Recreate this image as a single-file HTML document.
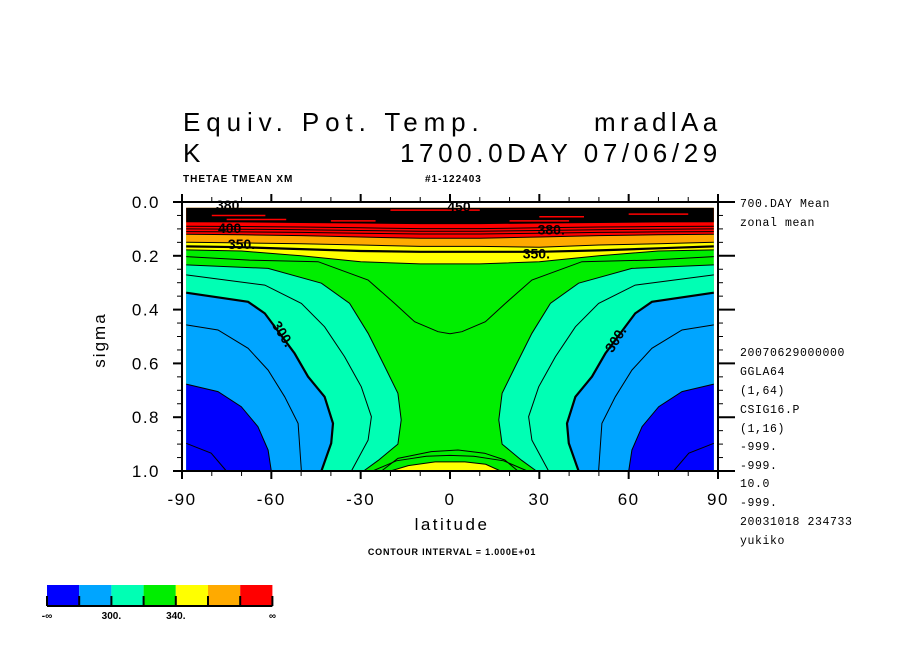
<!DOCTYPE html>
<html><head><meta charset="utf-8"><style>
html,body{margin:0;padding:0;background:#fff;}
svg{display:block;font-family:"Liberation Sans",sans-serif;}
.t{font-family:"Liberation Mono","DejaVu Sans Mono",monospace;}
</style></head><body>
<svg id="c" width="904" height="654" viewBox="0 0 904 654">
<text x="183" y="131" font-size="26" letter-spacing="5.9">Equiv. Pot. Temp.</text>
<text x="594" y="131" font-size="26" letter-spacing="4.4">mradlAa</text>
<text x="183" y="162" font-size="26">K</text>
<text x="400" y="162" font-size="26" letter-spacing="4.6">1700.0DAY 07/06/29</text>
<text x="183" y="182" font-size="10" font-weight="bold" letter-spacing="1">THETAE TMEAN XM</text>
<text x="425" y="182" font-size="10" font-weight="bold" letter-spacing="1">#1-122403</text>
<g id="plot"></g>
<g id="axes"></g>
<text x="105" y="340" font-size="17" letter-spacing="2" text-anchor="middle" transform="rotate(-90 105 340)">sigma</text>
<text x="452" y="530" font-size="17" letter-spacing="2.5" text-anchor="middle">latitude</text>
<text x="452" y="555" font-size="9" font-weight="bold" letter-spacing="0.8" text-anchor="middle">CONTOUR INTERVAL = 1.000E+01</text>
<g id="side" class="t" font-size="11.5" letter-spacing="0.6"></g>
<g id="cbar"></g>
</svg>
<script>
const levelsColors=["#0000ff","#00a5ff","#00ffb4","#00ee00","#ffff00","#ffaa00","#ff0000"];
const cbarLabels=["-∞","300.","340.","∞"];
const xTicks=[-90,-60,-30,0,30,60,90];
const yTicks=[0.0,0.2,0.4,0.6,0.8,1.0];
const bandLats=[-88.6,-70,-50,-30,-10,0,10,30,50,70,88.6];
const blackBot=[0.075,0.076,0.078,0.08,0.082,0.082,0.082,0.08,0.078,0.076,0.075];
const redBot=[0.12,0.122,0.125,0.13,0.135,0.135,0.135,0.13,0.125,0.122,0.12];
const orangeBot=[0.15,0.152,0.155,0.16,0.165,0.165,0.165,0.168,0.16,0.155,0.15];
const line350=[0.165,0.168,0.175,0.182,0.185,0.185,0.185,0.185,0.18,0.172,0.165];
const yellowBot=[0.178,0.182,0.2,0.222,0.23,0.23,0.23,0.222,0.2,0.182,0.178];
const c330Top=[[-88.6,0.203],[-67.3,0.216],[-44.3,0.222],[-27.5,0.29],[-18.6,0.377],[-11.9,0.445],[-4,0.482],[0,0.49]];
const c320=[[-88.6,0.234],[-61.1,0.247],[-43.2,0.302],[-33.7,0.377],[-27.5,0.488],[-21.9,0.612],[-17.5,0.711],[-16.4,0.81],[-17.5,0.9],[-24,0.96],[-29,1.0]];
const c310=[[-88.6,0.271],[-62.2,0.309],[-49.9,0.377],[-42.1,0.464],[-35.4,0.575],[-29.8,0.687],[-26.4,0.798],[-27.5,0.885],[-33.1,1.0]];
const c300=[[-88.6,0.337],[-67.8,0.371],[-62.2,0.414],[-52.2,0.563],[-47.7,0.649],[-42.1,0.724],[-39.3,0.823],[-39.9,0.897],[-43.2,1.0]];
const c290=[[-88.6,0.457],[-77.9,0.476],[-67.8,0.544],[-61.1,0.625],[-55.5,0.724],[-51,0.823],[-49.9,1.0]];
const c280=[[-88.6,0.677],[-77.9,0.705],[-70.1,0.761],[-64.5,0.835],[-61.1,0.922],[-60,1.0]];
const c270=[[-88.6,0.897],[-80.2,0.934],[-75.1,1.0]];
const c330Bot=[[-23,1.0],[-17.5,0.953],[-6.3,0.928],[2.7,0.922],[11.6,0.934],[18.4,0.959],[22.8,1.0]];
const c335Bot=[[-26,1.0],[-18,0.962],[-8,0.945],[0,0.942],[8,0.945],[18,0.962],[26,1.0]];
const c340Bot=[[-20,1.0],[-14,0.98],[-5,0.966],[5,0.966],[12,0.975],[17,1.0]];
const sideLines=[["700.DAY Mean",207],["zonal mean",226],["20070629000000",356],["GGLA64",375],["(1,64)",394],["CSIG16.P",413],["(1,16)",432],["-999.",450],["-999.",469],["10.0",487],["-999.",506],["20031018 234733",525],["yukiko",544]];

const NS="http://www.w3.org/2000/svg";
const X0=182,X1=718,Y0=202,Y1=471;
const sx=lat=>X0+(lat+90)/180*(X1-X0);
const sy=s=>Y0+s*(Y1-Y0);
function mk(tag,attrs,parent){const e=document.createElementNS(NS,tag);for(const k in attrs)e.setAttribute(k,attrs[k]);parent.appendChild(e);return e;}
const plot=document.getElementById('plot');
const pts=a=>a.map(p=>sx(p[0]).toFixed(1)+","+sy(p[1]).toFixed(1)).join(" ");
const mirror=a=>a.map(p=>[-p[0],p[1]]);
const bandPts=arr=>bandLats.map((l,i)=>[l,arr[i]]);
const L0=-88.6,L1=88.6;

let e=mk('rect',{x:sx(L0),y:sy(0.022),width:sx(L1)-sx(L0),height:sy(1)-sy(0.022),fill:levelsColors[3]},plot);

function band(arr,top,color,name){
  const p=[[L0,top]].concat(bandPts(arr)).concat([[L1,top]]);
  const el=mk('polygon',{points:pts(p),fill:color},plot);
  
}
band(yellowBot,0.022,levelsColors[4],'fill-yellow-top');
band(orangeBot,0.022,levelsColors[5],'fill-orange-top');
band(redBot,0.022,levelsColors[6],'fill-red-top');
band(blackBot,0.022,'#000','fill-black-top');
const streaks=[[-80,-62,0.05],[-75,-55,0.065],[-20,10,0.03],[30,45,0.055],[60,80,0.045],[-40,-25,0.07],[20,40,0.07]];
streaks.forEach(s=>{const el=mk('line',{x1:sx(s[0]),x2:sx(s[1]),y1:sy(s[2]),y2:sy(s[2]),stroke:'#f00','stroke-width':1.5},plot);
});

function region(c,color,name){
  [c,mirror(c)].forEach((cc,i)=>{
    const edge=i?L1:L0;
    const p=cc.concat([[edge,1.0]]);
    const el=mk('polygon',{points:pts(p),fill:color},plot);
    
  });
}
region(c320,levelsColors[2],'fill-cyan');
region(c300,levelsColors[1],'fill-lightblue');
region(c280,levelsColors[0],'fill-blue');
e=mk('polygon',{points:pts(c340Bot),fill:levelsColors[4]},plot);


function line(c,w,name){
  const el=mk('polyline',{points:pts(c),fill:'none',stroke:'#000','stroke-width':w},plot);
  
}
[[c330Top,1,'contour-330-top'],[c320,1,'contour-320'],[c310,1,'contour-310'],[c300,2.2,'contour-300'],[c290,1,'contour-290'],[c280,1,'contour-280'],[c270,1,'contour-270']].forEach(d=>{
  line(d[0],d[1],d[2]+'-north');line(mirror(d[0]),d[1],d[2]+'-south');
});
line(c330Bot,1,'contour-330-bottom');line(c335Bot,1,'contour-335-bottom');line(c340Bot,1,'contour-340-bottom');
line(bandPts(yellowBot),1,'contour-340-top');line(bandPts(line350),2.2,'contour-350');
line(bandPts(orangeBot),1,'contour-360');line(bandPts(redBot),1,'contour-380');
[0.09,0.1,0.11].forEach((s,i)=>{line(bandLats.map((l,j)=>[l,s+(redBot[j]-0.12)*0.6]),1,'contour-upper-'+i);});

function lab(txt,lat,s,rot,name){
  const g=mk('text',{x:sx(lat),y:sy(s),'font-size':14,'font-weight':'bold','text-anchor':'middle',transform:`rotate(${rot} ${sx(lat)} ${sy(s)})`},plot);
  g.textContent=txt;
}
lab('300.',-57.5,0.5,58,'label-300-north');lab('300.',57,0.52,-58,'label-300-south');
lab('350.',-70,0.175,0,'label-350-north');lab('350.',29,0.21,0,'label-350-south');
lab('380.',-74,0.03,0,'label-380-north');lab('450',3,0.035,0,'label-450');
lab('400',-74,0.115,0,'label-400-north');lab('380.',34,0.12,0,'label-380-south');

const ax=document.getElementById('axes');
e=mk('rect',{x:X0,y:Y0,width:X1-X0,height:Y1-Y0,fill:'none',stroke:'#000','stroke-width':2},ax);

for(let lat=-90;lat<=90;lat+=10){
  const major=lat%30===0;
  e=mk('line',{x1:sx(lat),x2:sx(lat),y1:Y1,y2:Y1+(major?8:5),stroke:'#000','stroke-width':major?2:1},ax);
  
  e=mk('line',{x1:sx(lat),x2:sx(lat),y1:Y0,y2:Y0-(major?8:5),stroke:'#000','stroke-width':major?2:1},ax);
  
}
for(let i=0;i<=20;i++){
  const s=i*0.05, major=i%4===0;
  e=mk('line',{x1:X0,x2:X0-(major?9:5),y1:sy(s),y2:sy(s),stroke:'#000','stroke-width':major?2:1},ax);
  
  e=mk('line',{x1:X1,x2:X1+(major?17:5),y1:sy(s),y2:sy(s),stroke:'#000','stroke-width':major?2:1},ax);
  
}
xTicks.forEach(v=>{e=mk('text',{x:sx(v),y:505,'font-size':17,'letter-spacing':1.5,'text-anchor':'middle'},ax);e.textContent=String(v);
});
yTicks.forEach(v=>{e=mk('text',{x:160,y:sy(v)+6,'font-size':17,'letter-spacing':1.5,'text-anchor':'end'},ax);e.textContent=v.toFixed(1);
});

const side=document.getElementById('side');
sideLines.forEach(s=>{e=mk('text',{x:740,y:s[1]},side);e.textContent=s[0];
});

const cb=document.getElementById('cbar');
const cw=32.2;
levelsColors.forEach((c,i)=>{e=mk('rect',{x:47+i*cw,y:585,width:cw,height:20,fill:c},cb);

e=mk('line',{x1:47+i*cw,x2:47+i*cw,y1:596,y2:606,stroke:'#000','stroke-width':2},cb);
});
e=mk('line',{x1:47,x2:47+7*cw,y1:606,y2:606,stroke:'#000','stroke-width':2},cb);

e=mk('line',{x1:47+7*cw,x2:47+7*cw,y1:596,y2:606,stroke:'#000','stroke-width':2},cb);

const cbPos=[0,2,4,7];
cbarLabels.forEach((t,i)=>{e=mk('text',{x:47+cbPos[i]*cw,y:619,'font-size':10,'font-weight':'bold','text-anchor':'middle'},cb);e.textContent=t;
});
</script>
</body></html>
